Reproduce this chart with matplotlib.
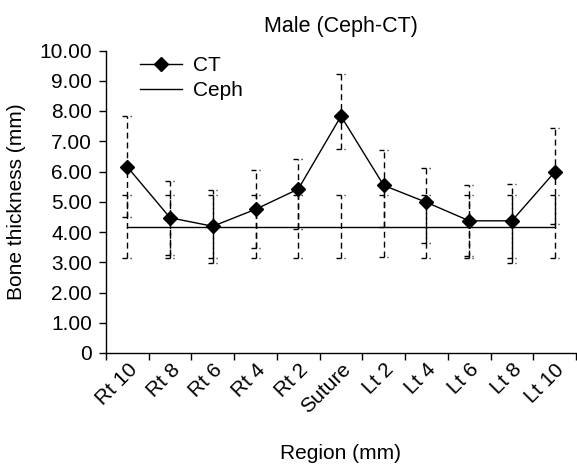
import matplotlib
matplotlib.use("Agg")
import matplotlib.pyplot as plt
import numpy as np

plt.rcParams['font.family'] = ['Liberation Sans', 'DejaVu Sans']

regions = ["Rt 10", "Rt 8", "Rt 6", "Rt 4", "Rt 2", "Suture",
           "Lt 2", "Lt 4", "Lt 6", "Lt 8", "Lt 10"]
ct_mean = [6.15, 4.47, 4.19, 4.75, 5.42, 7.83, 5.54, 4.98, 4.37, 4.37, 5.98]
ct_upper = [7.83, 5.69, 5.38, 6.04, 6.42, 9.23, 6.70, 6.11, 5.55, 5.58, 7.45]
ct_lower = [4.48, 3.25, 2.99, 3.46, 4.10, 6.73, 4.17, 3.62, 3.20, 2.96, 4.28]
ceph_mean = [4.17] * 11
ceph_upper = [5.23, 5.23, 5.22, 5.22, 5.22, 5.22, 5.23, 5.23, 5.23, 5.23, 5.23]
ceph_lower = [3.15, 3.15, 3.13, 3.15, 3.15, 3.15, 3.16, 3.15, 3.15, 3.15, 3.14]
yticks = [0, 1, 2, 3, 4, 5, 6, 7, 8, 9, 10]
ytick_labels = ["0", "1.00", "2.00", "3.00", "4.00", "5.00", "6.00",
                "7.00", "8.00", "9.00", "10.00"]

FS = 15
fig = plt.figure(figsize=(5.77, 4.68), dpi=100)
ax = fig.add_axes([106 / 577, 1 - 353 / 468, 470 / 577, (353 - 50.5) / 468])

x = np.arange(len(regions))
vdash = (0, (4.3, 2.8))
capstyle = (0, (3.6, 2.2, 0.8, 10))
capL, capR = 0.117, 0.10


def draw_err(mean, lower, upper):
    mean = np.asarray(mean)
    lo = mean - np.asarray(lower)
    hi = np.asarray(upper) - mean
    eb = ax.errorbar(x, mean, yerr=[lo, hi], fmt='none', ecolor='black',
                     elinewidth=1.0, capsize=0, zorder=2)
    eb[2][0].set_linestyle(vdash)
    ax.hlines(upper, x - capL, x + capR, colors='black', linewidth=1.0,
              linestyles=[capstyle], zorder=2)
    ax.hlines(lower, x - capL, x + capR, colors='black', linewidth=1.0,
              linestyles=[capstyle], zorder=2)


draw_err(ceph_mean, ceph_lower, ceph_upper)
draw_err(ct_mean, ct_lower, ct_upper)

ax.plot(x, ceph_mean, color='black', linewidth=1.0, label='Ceph', zorder=3)
ax.plot(x, ct_mean, color='black', linewidth=1.0, marker='D', markersize=7,
        label='CT', zorder=4)

ax.set_xlim(-0.5, len(regions) - 0.5)
ax.set_ylim(0, 10)
ax.set_yticks(yticks)
ax.set_yticklabels(ytick_labels, fontsize=FS)
ax.set_xticks(np.arange(len(regions) + 1) - 0.5)
ax.set_xticklabels([])
ax.set_xticks(x, minor=True)
ax.set_xticklabels(regions, minor=True, rotation=45, ha='right',
                   rotation_mode='anchor', fontsize=FS)
ax.tick_params(axis='x', which='minor', length=0, pad=5)
ax.tick_params(axis='both', which='major', direction='out', length=5,
               width=1, color='black')
ax.tick_params(axis='y', pad=5)

for s in ['top', 'right']:
    ax.spines[s].set_visible(False)
for s in ['left', 'bottom']:
    ax.spines[s].set_linewidth(1.0)

ax.set_ylabel("Bone thickness (mm)", fontsize=FS, labelpad=10)
ax.set_xlabel("Region (mm)", fontsize=FS, labelpad=19)
ax.set_title("Male (Ceph-CT)", fontsize=15.5, pad=13)

h, l = ax.get_legend_handles_labels()
order = [l.index('CT'), l.index('Ceph')]
ax.legend([h[i] for i in order], [l[i] for i in order], loc='upper left',
          bbox_to_anchor=(0.055, 1.01), frameon=False, fontsize=FS,
          handlelength=2.0, handletextpad=0.55, labelspacing=0.3,
          borderaxespad=0)

fig.savefig("out.png", dpi=100)
